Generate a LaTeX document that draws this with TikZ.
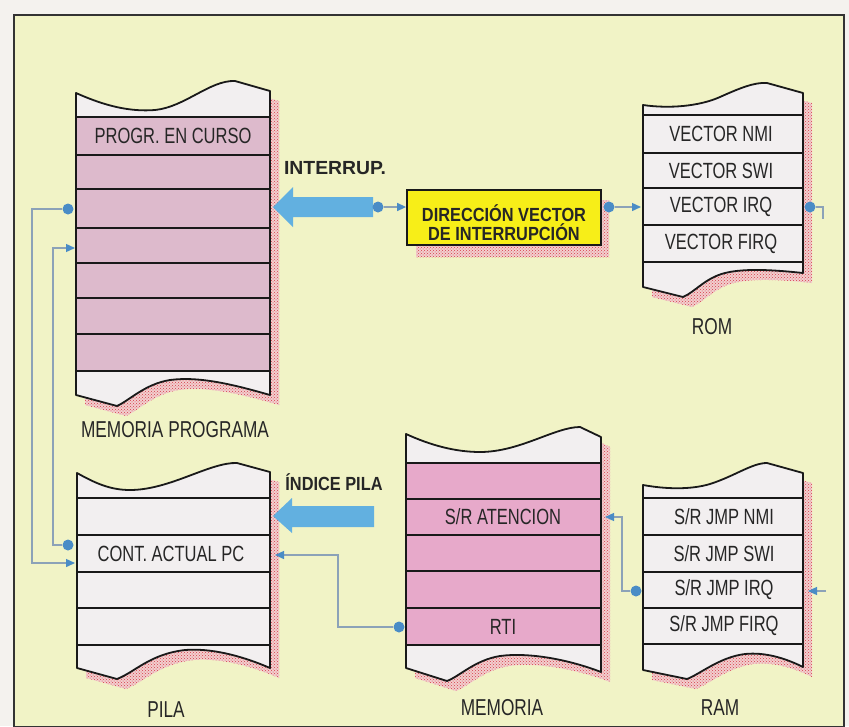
\documentclass[tikz,border=0pt]{standalone}
\usepackage{fontspec}
\setmainfont{Liberation Sans}
\newfontfamily\cellfont{Liberation Sans}[FakeStretch=0.75]
\newfontfamily\boldfont{Liberation Sans}[FakeStretch=0.86]
\newfontfamily\boldwide{Liberation Sans}[FakeStretch=1.02]
\usetikzlibrary{patterns,arrows.meta}
\definecolor{outside}{HTML}{F4F2EE}
\definecolor{bgyellow}{HTML}{F1F3C6}
\definecolor{framecol}{HTML}{333333}
\definecolor{cellwhite}{HTML}{F2EFF0}
\definecolor{pinkA}{HTML}{DDBACC}
\definecolor{pinkB}{HTML}{E7A9CA}
\definecolor{arrowblue}{HTML}{62B0E0}
\definecolor{connline}{HTML}{8CA2B8}
\definecolor{dotblue}{HTML}{4A8CC6}
\definecolor{boxyellow}{HTML}{F7EE18}
\definecolor{shadowbase}{HTML}{F2CFCF}
\definecolor{shadowred}{HTML}{D63C48}
\definecolor{txtcol}{HTML}{262626}
\tikzset{
  celltxt/.style={font=\cellfont\fontsize{22}{24}\selectfont, text=txtcol, inner sep=0pt},
  labeltxt/.style={font=\cellfont\fontsize{23}{25}\selectfont, text=txtcol, inner sep=0pt},
  boldtxt/.style={font=\boldfont\bfseries\fontsize{19}{19}\selectfont, text=txtcol, inner sep=0pt},
  boldwidetxt/.style={font=\boldwide\bfseries\fontsize{19}{19}\selectfont, text=txtcol, inner sep=0pt},
  blockline/.style={draw=black!90, line width=1.8pt, line join=round},
  sepline/.style={draw=black!90, line width=1.6pt},
  shadowfill/.style={preaction={fill=shadowbase}, pattern=crosshatch dots, pattern color=shadowred},
  conn/.style={draw=connline, line width=1.4pt},
  conntip/.style={-{Triangle[length=9pt,width=8pt,color=dotblue]}},
  cdot/.style={circle, fill=dotblue, inner sep=0pt, minimum size=11pt},
  ybox/.style={draw=black!90, line width=1.8pt, fill=boxyellow, minimum width=194pt, minimum height=55pt, inner sep=0pt},
}
\begin{document}
\begin{tikzpicture}[x=1pt,y=-1pt]
\useasboundingbox (0,0) rectangle (849,726);
\fill[outside] (0,0) rectangle (849,726);
\draw[framecol, line width=2pt, fill=bgyellow] (14,15) rectangle (844,727);

% ---------- block paths ----------
\def\blkProg{(76,93) .. controls (105,106) and (130,112) .. (155,110) .. controls (185,107) and (210,80) .. (235,81) -- (270,91) -- (270,395) .. controls (235,385) and (200,376) .. (170,380) .. controls (145,384) and (130,400) .. (117,406) -- (76,395) -- cycle}
\def\blkRom{(643,105) .. controls (670,109) and (700,106) .. (720,97) .. controls (740,88) and (755,82) .. (767,83) -- (803,93) -- (803,273) .. controls (775,270) and (745,268) .. (725,273) .. controls (705,278) and (695,292) .. (683,297) -- (643,287) -- cycle}
\def\blkPila{(77,473) .. controls (95,483) and (110,490) .. (130,490) .. controls (170,490) and (210,462) .. (237,463) -- (270,472) -- (270,668) .. controls (240,655) and (210,648) .. (185,650) .. controls (150,654) and (135,672) .. (117,679) -- (77,668) -- cycle}
\def\blkMem{(406,434) .. controls (430,445) and (455,452) .. (480,452) .. controls (520,452) and (555,427) .. (580,427) -- (601,437) -- (601,672) .. controls (570,660) and (530,652) .. (500,656) .. controls (475,660) and (460,676) .. (447,681) -- (406,668) -- cycle}
\def\blkRam{(643,485) .. controls (665,489) and (690,490) .. (710,484) .. controls (735,476) and (752,463) .. (767,463) -- (803,473) -- (803,667) .. controls (785,658) and (765,652) .. (745,654) .. controls (720,657) and (700,674) .. (687,679) -- (643,670) -- cycle}

% ---------- MEMORIA PROGRAMA ----------
\path[shadowfill, shift={(9,10)}] \blkProg;
\fill[cellwhite] \blkProg;
\fill[pinkA] (76,117) rectangle (270,371);
\foreach \yy in {117,155,189,228,263,298,334,371} \draw[sepline] (76,\yy) -- (270,\yy);
\draw[blockline] \blkProg;

% ---------- ROM ----------
\path[shadowfill, shift={(9,10)}] \blkRom;
\fill[cellwhite] \blkRom;
\foreach \yy in {115,153,188,225,262} \draw[sepline] (643,\yy) -- (803,\yy);
\draw[blockline] \blkRom;

% ---------- PILA ----------
\path[shadowfill, shift={(9,10)}] \blkPila;
\fill[cellwhite] \blkPila;
\foreach \yy in {498,535,572,608,645} \draw[sepline] (77,\yy) -- (270,\yy);
\draw[blockline] \blkPila;

% ---------- MEMORIA ----------
\path[shadowfill, shift={(9,10)}] \blkMem;
\fill[cellwhite] \blkMem;
\fill[pinkB] (406,463) rectangle (601,645);
\foreach \yy in {463,499,535,571,608,645} \draw[sepline] (406,\yy) -- (601,\yy);
\draw[blockline] \blkMem;

% ---------- RAM ----------
\path[shadowfill, shift={(9,10)}] \blkRam;
\fill[cellwhite] \blkRam;
\foreach \yy in {498,535,572,608,644} \draw[sepline] (643,\yy) -- (803,\yy);
\draw[blockline] \blkRam;

% ---------- yellow box ----------
\path[shadowfill] (416,200) rectangle (609,257);
\node[ybox] (box) at (504,217.5) {};
\node[boldtxt, align=center] (boxtxt) at (504,223) {DIRECCIÓN VECTOR\\DE INTERRUPCIÓN};

% ---------- big arrows ----------
\fill[arrowblue] (273,207) -- (293,187) -- (293,197) -- (373,197) -- (373,217) -- (293,217) -- (293,227) -- cycle;
\fill[arrowblue] (273,516) -- (292,498) -- (292,506) -- (374,506) -- (374,527) -- (292,527) -- (292,533) -- cycle;

% ---------- cell texts ----------
\node[celltxt] (prog1) at (173,136) {PROGR. EN CURSO};
\node[celltxt] (rom1) at (721,134) {VECTOR NMI};
\node[celltxt] (rom2) at (721,170.5) {VECTOR SWI};
\node[celltxt] (rom3) at (721,206.5) {VECTOR IRQ};
\node[celltxt] (rom4) at (721,243.5) {VECTOR FIRQ};
\node[celltxt] (pila2) at (171,553.5) {CONT. ACTUAL PC};
\node[celltxt] (mem2) at (503,517) {S/R ATENCION};
\node[celltxt] (mem5) at (503,626.5) {RTI};
\node[celltxt] (ram1) at (724,516.5) {S/R JMP NMI};
\node[celltxt] (ram2) at (724,553.5) {S/R JMP SWI};
\node[celltxt] (ram3) at (724,590) {S/R JMP IRQ};
\node[celltxt] (ram4) at (724,626) {S/R JMP FIRQ};

% ---------- labels ----------
\node[labeltxt] (lprog) at (175,430) {MEMORIA PROGRAMA};
\node[labeltxt] (lrom) at (712,327) {ROM};
\node[labeltxt] (lpila) at (166,710) {PILA};
\node[labeltxt] (lmem) at (502,708) {MEMORIA};
\node[labeltxt] (lram) at (720,708) {RAM};
\node[boldwidetxt] (linterr) at (335,168) {INTERRUP.};
\node[boldtxt] (lindice) at (334,482) {ÍNDICE PILA};

% ---------- connectors ----------
\node[cdot] (d1) at (378,207) {};
\node[cdot] (d2) at (609,207) {};
\node[cdot] (d3) at (810,207) {};
\node[cdot] (d4) at (636,591) {};
\node[cdot] (d5) at (399,627) {};
\node[cdot] (d6) at (68,209) {};
\node[cdot] (d7) at (68,545) {};
\coordinate (romW) at (641,207);
\coordinate (stub) at (823,219);
\coordinate (ramEin) at (808,591);
\coordinate (ramfree) at (826,591);
\coordinate (memE) at (605,517);
\coordinate (pilaE) at (275,555);
\coordinate (pilaW) at (75,563);
\coordinate (progW) at (75,248);

\draw[conn,conntip] (d1) -- (box.west |- d1);
\draw[conn,conntip] (d2) -- (romW);
\draw[conn] (d3) -| (stub);
\draw[conn,conntip] (ramfree) -- (ramEin);
\draw[conn,conntip] (d4) -- ++(-14,0) |- (memE);
\draw[conn,conntip] (d5) -- ++(-61,0) |- (pilaE);
\draw[conn,conntip] (d6) -- ++(-36,0) |- (pilaW);
\draw[conn,conntip] (d7) -- ++(-15,0) |- (progW);
\end{tikzpicture}
\end{document}
